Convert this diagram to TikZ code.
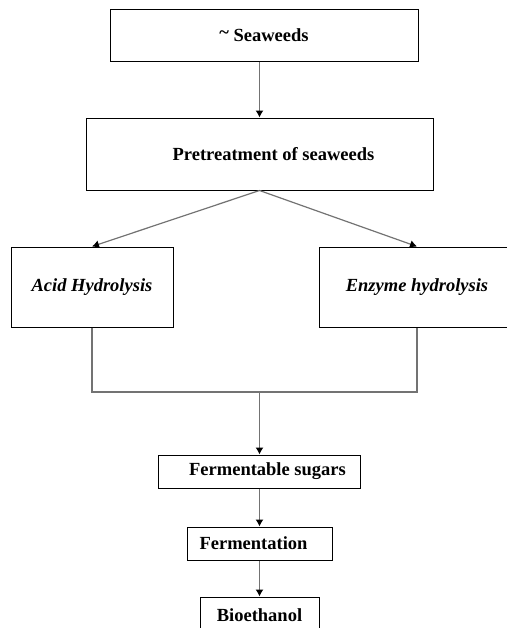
\documentclass[tikz,border=0pt]{standalone}
\usepackage{fontspec}
\setmainfont{Liberation Serif}
\usetikzlibrary{arrows.meta}

\begin{document}
\begin{tikzpicture}[x=0.5pt, y=-0.5pt,
    stage/.style={draw=black, line width=0.5pt, inner sep=0pt,
        font=\fontsize{9.25}{11}\selectfont\bfseries},
    link/.style={draw=black!55, line width=0.6pt},
    arr/.style={link, -{Latex[length=3.5pt, width=4pt, color=black]}}]
        \clip (0,0) rectangle (507,628);

        % boxes
	\node[stage, minimum width=154pt, minimum height=26pt] (seaweeds) at (264,35) {\raisebox{0.35ex}{\textasciitilde}\ Seaweeds};

	\node[stage, minimum width=173.5pt, minimum height=36pt] (pretreat) at (259.5,154) {\hspace*{14pt}Pretreatment of seaweeds};

	\node[stage, minimum width=81pt, minimum height=40pt, font=\fontsize{9.25}{11}\selectfont\bfseries\itshape] (acid) at (92,287) {Acid\ Hydrolysis};

	\node[stage, minimum width=98pt, minimum height=40pt, font=\fontsize{9.25}{11}\selectfont\bfseries\itshape] (enzyme) at (417,287) {Enzyme hydrolysis};

	\node[stage, minimum width=101pt, minimum height=16.5pt] (sugars) at (259.5,471.5) {\hspace*{8pt}Fermentable sugars};

	\node[stage, minimum width=72.5pt, minimum height=16.5pt] (ferment) at (259.5,543.5) {Fermentation\hspace*{6pt}};

	\node[stage, minimum width=59.5pt, minimum height=18pt] (bio) at (259.5,615) {Bioethanol};

        \coordinate (join) at (259.5,392);

        % connectors
	\draw[arr] (seaweeds.south -| pretreat.north) -- (pretreat.north);
	\draw[arr] (pretreat.south) -- (acid.north);
	\draw[arr] (pretreat.south) -- (enzyme.north);

	\draw[link] (acid.south) |- (join) -| (enzyme.south);
	\draw[arr] (join) -- (sugars.north);

	\draw[arr] (sugars.south) -- (ferment.north);
	\draw[arr] (ferment.south) -- (bio.north);

\end{tikzpicture}
\end{document}
